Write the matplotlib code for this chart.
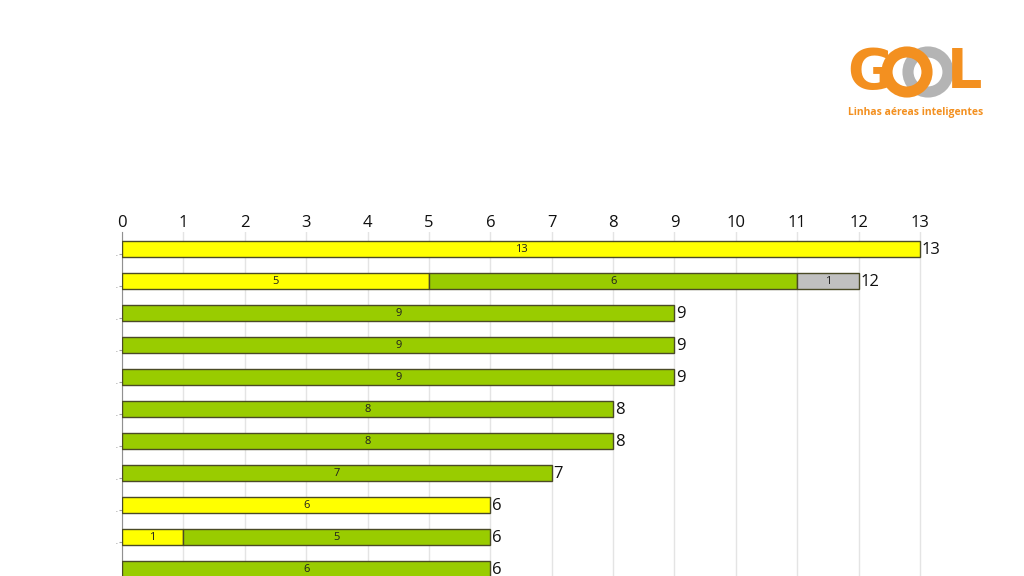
import matplotlib.pyplot as plt
from matplotlib.patches import Circle
import numpy as np

# values per row (top to bottom), three stacked groups
yellow = [13, 5, 0, 0, 0, 0, 0, 0, 6, 1, 0]
green = [0, 6, 9, 9, 9, 8, 8, 7, 0, 5, 6]
gray = [0, 1, 0, 0, 0, 0, 0, 0, 0, 0, 0]
x_ticks = list(range(0, 14))

colors = ['#FFFF00', '#99CC00', '#C0C0C0']
edge = '#4a4a26'
font = ['Open Sans', 'DejaVu Sans']
plt.rcParams['font.family'] = font

fig = plt.figure(figsize=(10.24, 5.76), dpi=100)

# logo drawn on a pixel-coordinate overlay
bg = fig.add_axes([0, 0, 1, 1])
bg.set_xlim(0, 1024)
bg.set_ylim(576, 0)
bg.axis('off')
orange = '#F39020'
bg.add_patch(Circle((928, 72), 20, fill=False, lw=8, ec='#B4B4B4'))
bg.add_patch(Circle((907, 72), 20, fill=False, lw=8, ec=orange))
bg.text(870, 73, 'G', color=orange, fontsize=40, fontweight='bold',
        ha='center', va='center', family='DejaVu Sans')
bg.text(965, 73, 'L', color=orange, fontsize=40, fontweight='bold',
        ha='center', va='center', family='DejaVu Sans')
bg.text(916, 113, 'Linhas aéreas inteligentes', color=orange, fontsize=7.5,
        ha='center', va='center', fontweight='bold')

# main chart: top at 232 px, runs past the bottom of the picture
ax = fig.add_axes([122 / 1024, 0, (963 - 122) / 1024, (576 - 232) / 576])
rows = np.arange(len(yellow))
left = np.zeros(len(yellow))
for vals, c in zip([yellow, green, gray], colors):
    vals = np.array(vals, dtype=float)
    mask = vals > 0
    ax.barh(rows[mask], vals[mask], left=left[mask], height=0.5, color=c,
            edgecolor=edge, linewidth=1, zorder=3)
    for r in rows[mask]:
        ax.text(left[r] + vals[r] / 2, r, f'{int(vals[r])}', ha='center',
                va='center', fontsize=8, color='#202020', zorder=4)
    left += vals

for r in rows:
    ax.text(left[r] + 0.03, r + 0.02, f'{int(left[r])}', ha='left', va='center',
            fontsize=12, color='#101010', zorder=4)

ax.set_xlim(0, 13.7)
ax.set_ylim((576 - 249) / 32, -17 / 32)
ax.xaxis.tick_top()
ax.set_xticks(x_ticks)
ax.tick_params(axis='x', length=0, labelsize=12, pad=1, labelcolor='#101010')
ax.set_yticks(rows[:-1] + 0.15)
ax.set_yticklabels(['.'] * (len(rows) - 1), fontsize=5, color='#606060')
ax.tick_params(axis='y', length=2, color='#a0a0a0', pad=1)
ax.grid(axis='x', color='#e4e4e4', linewidth=1, zorder=0)
for s in ['top', 'right', 'bottom']:
    ax.spines[s].set_visible(False)
ax.spines['left'].set_color('#909090')
ax.patch.set_alpha(0)

fig.savefig('out.png', dpi=100)
